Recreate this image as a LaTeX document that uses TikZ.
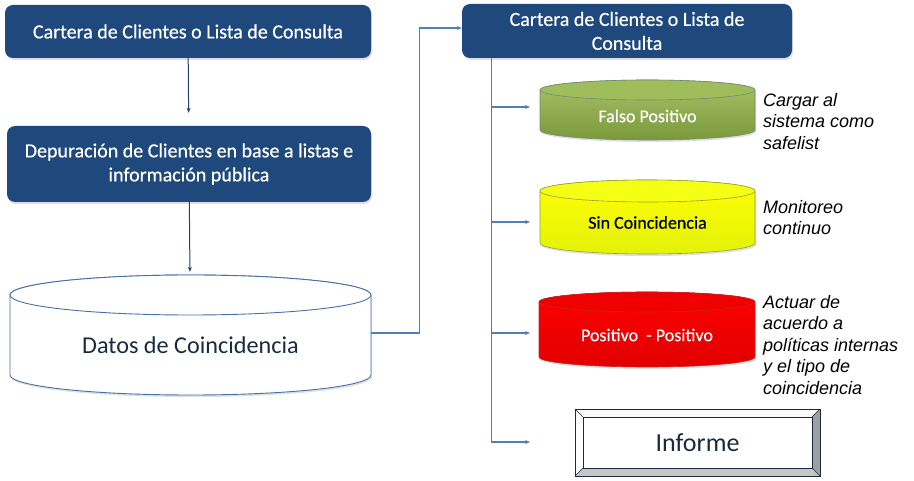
\documentclass[tikz,border=0pt]{standalone}
\usepackage{fontspec}
\setmainfont{Carlito}
\newfontfamily\boxfont[FakeBold=0.5]{Carlito}
\newfontfamily\arialfont{Liberation Sans}
\usetikzlibrary{arrows.meta,shadows}
\definecolor{navy}{HTML}{1F497D}
\definecolor{darkconn}{HTML}{24406A}
\definecolor{lightconn}{HTML}{4F7FBE}
\definecolor{cylborder}{HTML}{4A6FA5}
\definecolor{txtdark}{HTML}{1A2A40}
\definecolor{gtop}{RGB}{168,195,104}
\definecolor{gbot}{RGB}{122,152,60}
\definecolor{gcap}{RGB}{160,189,92}
\definecolor{gline}{RGB}{110,140,120}
\definecolor{ytop}{RGB}{255,255,0}
\definecolor{ybot}{RGB}{226,242,10}
\definecolor{ycap}{RGB}{245,255,20}
\definecolor{yline}{RGB}{150,160,60}
\definecolor{rtop}{RGB}{255,0,0}
\definecolor{rbot}{RGB}{225,0,0}
\definecolor{rcap}{RGB}{240,0,0}
\definecolor{rline}{RGB}{190,40,40}
\newcommand\cylbody[6]{%
  \path[#6] ({#1-#4},#2) -- ({#1-#4},#3)
    arc[start angle=180,end angle=360,x radius=#4pt,y radius=#5pt]
    -- ({#1+#4},#2)
    arc[start angle=0,end angle=180,x radius=#4pt,y radius=#5pt] -- cycle;}
\newcommand\cyltop[5]{%
  \path[#5] (#1,#2) ellipse[x radius=#3pt,y radius=#4pt];}
\tikzset{
  bluebox/.style={rounded corners=8pt, fill=navy, text=white, inner sep=0pt,
    align=center, font=\boxfont\fontsize{20}{24}\selectfont,
    drop shadow={opacity=0.25, shadow xshift=1pt, shadow yshift=-2pt}},
  dconn/.style={draw=darkconn, line width=1pt, -{Stealth[length=5pt,width=4pt]}},
  lconn/.style={draw=lightconn, line width=1.2pt, -{Stealth[length=5pt,width=4pt]}},
  note/.style={anchor=north west, inner sep=0pt, align=left,
    font=\arialfont\itshape\fontsize{18}{21.5}\selectfont},
  cyltext/.style={inner sep=0pt, font=\boxfont\fontsize{18}{21}\selectfont},
  cylshadow/.style={fill=black, opacity=0.12}
}
\begin{document}
\begin{tikzpicture}[x=1pt,y=-1pt]
\useasboundingbox (0,0) rectangle (914,481);
% left column
\node[bluebox, minimum width=366pt, minimum height=53pt] (b1) at (188,31.5)
  {Cartera de Clientes o Lista de Consulta};
\node[bluebox, minimum width=364pt, minimum height=76pt] (b2) at (189,164)
  {Depuración de Clientes en base a listas e\\información pública};
% Datos cylinder
\cylbody{191.5}{297}{377}{180.5}{20}{cylshadow}
\cylbody{190.5}{295}{375}{180.5}{20}{fill=white, draw=cylborder, line width=0.9pt}
\cyltop{190.5}{295}{180.5}{20}{fill=white, draw=cylborder, line width=0.9pt}
\node[inner sep=0pt, minimum width=361pt, minimum height=120pt] (dc) at (190.5,335) {};
\node[inner sep=0pt, text=txtdark, font=\fontsize{24.2}{29}\selectfont] (dct) at (190.5,345) {Datos de Coincidencia};
\draw[dconn, shorten >=13pt] (b1) -- (b2);
\draw[dconn, shorten >=3pt] (b2) -- (dc);
% right top box
\node[bluebox, minimum width=330pt, minimum height=54pt] (b3) at (627,31)
  {Cartera de Clientes o Lista de\\Consulta};
\draw[lconn] ([yshift=2pt]dc.east) -- ++(48,0) |- ([yshift=3pt]b3.west);
% Falso Positivo
\cylbody{648.5}{92}{132}{107.5}{10}{cylshadow}
\cylbody{647.5}{90}{130}{107.5}{10}{top color=gtop, bottom color=gbot, draw=gline, line width=0.6pt}
\cyltop{647.5}{90}{107.5}{10}{fill=gcap, draw=gline, line width=0.6pt}
\node[cyltext, text=white, minimum width=215pt] (fp) at (647.5,116) {Falso Positivo};
% Sin Coincidencia
\cylbody{648.5}{193}{245}{107.5}{11}{cylshadow}
\cylbody{647.5}{191}{243}{107.5}{11}{top color=ytop, bottom color=ybot, draw=yline, line width=0.6pt}
\cyltop{647.5}{191}{107.5}{11}{fill=ycap, draw=yline, line width=0.6pt}
\node[cyltext, text=black, minimum width=215pt] (sc) at (647.5,222.5) {Sin Coincidencia};
% Positivo - Positivo
\cylbody{648}{304}{359}{108}{10}{cylshadow}
\cylbody{647}{302}{357}{108}{10}{top color=rtop, bottom color=rbot, draw=rline, line width=0.6pt}
\cyltop{647}{302}{108}{10}{fill=rcap, draw=rline, line width=0.6pt}
\node[cyltext, text=white, minimum width=216pt] (pp) at (647,335) {Positivo\ \ -\ Positivo};
% Informe bevel box
\fill[white!95!gray] (575,409) -- (820,409) -- (812,417) -- (583,417) -- cycle;
\fill[white] (575,409) -- (583,417) -- (583,468) -- (575,476) -- cycle;
\fill[gray!75] (820,409) -- (820,476) -- (812,468) -- (812,417) -- cycle;
\fill[gray!45] (575,476) -- (820,476) -- (812,468) -- (583,468) -- cycle;
\draw[txtdark, line width=0.6pt] (575,409) rectangle (820,476);
\draw[txtdark, line width=0.6pt] (583,417) rectangle (812,468);
\draw[txtdark, line width=0.5pt] (575,409) -- (583,417) (820,409) -- (812,417)
  (575,476) -- (583,468) (820,476) -- (812,468);
\node[inner sep=0pt, minimum width=245pt, minimum height=67pt, text=txtdark,
  font=\fontsize{26}{30}\selectfont] (inf) at (697.5,442.5) {Informe};
% branch connectors
\coordinate (fpin) at (530,107);
\coordinate (scin) at (530,222);
\coordinate (ppin) at (530,333);
\coordinate (infin) at (530,442);
\draw[lconn] ([xshift=30pt]b3.south west) |- (fpin);
\draw[lconn] ([xshift=30pt]b3.south west) |- (scin);
\draw[lconn] ([xshift=30pt]b3.south west) |- (ppin);
\draw[lconn] ([xshift=30pt]b3.south west) |- (infin);
% notes
\node[note] (n1) at (763,93) {Cargar al\\sistema como\\safelist};
\node[note] (n2) at (763,200) {Monitoreo\\continuo};
\node[note] (n3) at (763,295) {Actuar de\\acuerdo a\\políticas internas\\y el tipo de\\coincidencia};
\end{tikzpicture}
\end{document}
